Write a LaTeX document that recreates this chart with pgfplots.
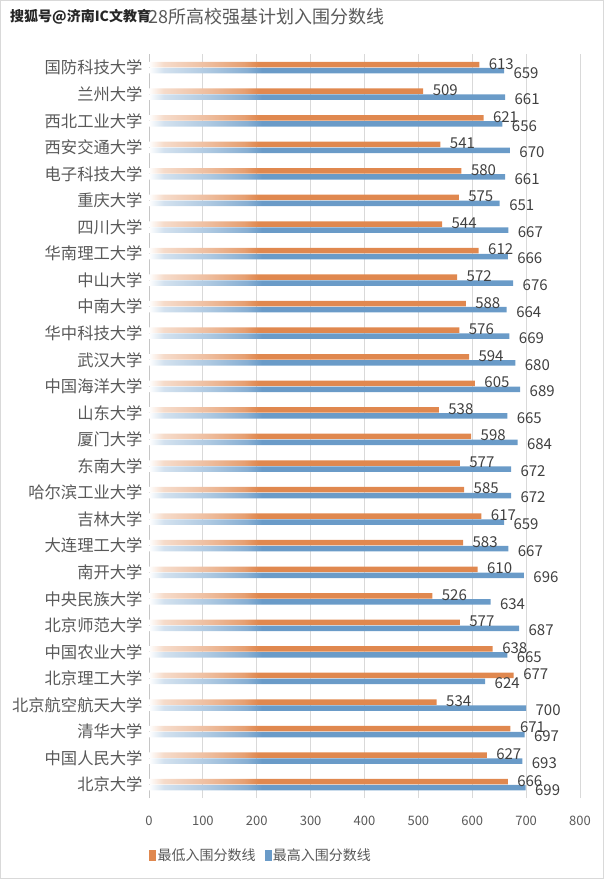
\documentclass[border=0pt]{standalone}
\usepackage{fontspec}
\setmainfont{Noto Sans CJK SC}
\usepackage{pgfplots}
\usepackage{pgfplotstable}
\pgfplotsset{compat=1.18}
\definecolor{barorange}{HTML}{E0884F}
\definecolor{barblue}{HTML}{6A9BC8}
\definecolor{txt}{HTML}{595959}
\definecolor{lbl}{HTML}{404040}
\definecolor{gridgray}{HTML}{D9D9D9}
\pgfdeclarehorizontalshading{ofade}{100bp}{color(0bp)=(white); color(25bp)=(white); color(27bp)=(barorange!30); color(33bp)=(barorange!55); color(38bp)=(barorange!80); color(40bp)=(barorange); color(100bp)=(barorange)}
\pgfdeclarehorizontalshading{bfade}{100bp}{color(0bp)=(white); color(25bp)=(white); color(27bp)=(barblue!30); color(33bp)=(barblue!55); color(38bp)=(barblue!80); color(40bp)=(barblue); color(100bp)=(barblue)}
\pgfplotstableread{
idx low high name
0 666 699 北京大学
1 627 693 中国人民大学
2 671 697 清华大学
3 534 700 北京航空航天大学
4 677 624 北京理工大学
5 638 665 中国农业大学
6 577 687 北京师范大学
7 526 634 中央民族大学
8 610 696 南开大学
9 583 667 大连理工大学
10 617 659 吉林大学
11 585 672 哈尔滨工业大学
12 577 672 东南大学
13 598 684 厦门大学
14 538 665 山东大学
15 605 689 中国海洋大学
16 594 680 武汉大学
17 576 669 华中科技大学
18 588 664 中南大学
19 572 676 中山大学
20 612 666 华南理工大学
21 544 667 四川大学
22 575 651 重庆大学
23 580 661 电子科技大学
24 541 670 西安交通大学
25 621 656 西北工业大学
26 509 661 兰州大学
27 613 659 国防科技大学
}\data
\begin{document}
\begin{tikzpicture}
\path[use as bounding box] (0,0) rectangle (604pt,879pt);
\draw[gridgray] (0.5pt,0.5pt) rectangle (603.5pt,878.5pt);
\node[anchor=west, font=\fontsize{14}{14}\selectfont\bfseries, text=black!85, inner sep=0pt] at (10pt,862pt) {搜狐号@济南IC文教育};
\node[anchor=west, font=\fontsize{18}{18}\selectfont, text=txt, inner sep=0pt] at (148pt,862pt) {28所高校强基计划入围分数线};
\begin{axis}[
  at={(149pt,81pt)}, anchor=south west,
  scale only axis, width=431pt, height=743.6pt,
  xmin=0, xmax=800, ymin=-0.5, ymax=27.5,
  xtick={0,100,...,800}, ytick={0,...,27},
  yticklabels from table={\data}{name},
  xmajorgrids, grid style={draw=gridgray, line width=0.8pt},
  axis line style={draw=none},
  extra x ticks={0}, extra x tick labels={},
  extra x tick style={grid style={draw=gray!45, line width=0.8pt}},
  major tick length=0pt,
  xbar, bar width=5.5pt,
  tick label style={text=txt},
  yticklabel style={font=\fontsize{16.3}{16.3}\selectfont, xshift=-3pt},
  xticklabel style={font=\fontsize{13}{13}\selectfont, yshift=-15pt},
  /pgf/number format/assume math mode=true,
  clip=false,
  legend style={at={(-0.007,-0.077)}, anchor=west, draw=none, fill=none,
    legend columns=2, font=\fontsize{14}{14}\selectfont, text=txt,
    /tikz/every even column/.append style={column sep=7pt}},
  legend cell align=left,
]
\addplot[draw=none, shade, shading=ofade, bar shift=3pt,
  nodes near coords, nodes near coords style={font=\fontsize{15}{15}\selectfont, text=lbl, anchor=west, xshift=6pt, yshift=1pt},
  forget plot] table[x=low,y=idx]{\data};
\addplot[draw=none, shade, shading=bfade, bar shift=-3pt,
  nodes near coords, nodes near coords style={font=\fontsize{15}{15}\selectfont, text=lbl, anchor=west, xshift=6pt, yshift=-2pt},
  forget plot] table[x=high,y=idx]{\data};
\addlegendimage{legend image code/.code={\fill[barorange] (0pt,-5pt) rectangle (6pt,5pt);}}
\addlegendentry{最低入围分数线}
\addlegendimage{legend image code/.code={\fill[barblue] (0pt,-5pt) rectangle (6pt,5pt);}}
\addlegendentry{最高入围分数线}
\end{axis}
\end{tikzpicture}
\end{document}
